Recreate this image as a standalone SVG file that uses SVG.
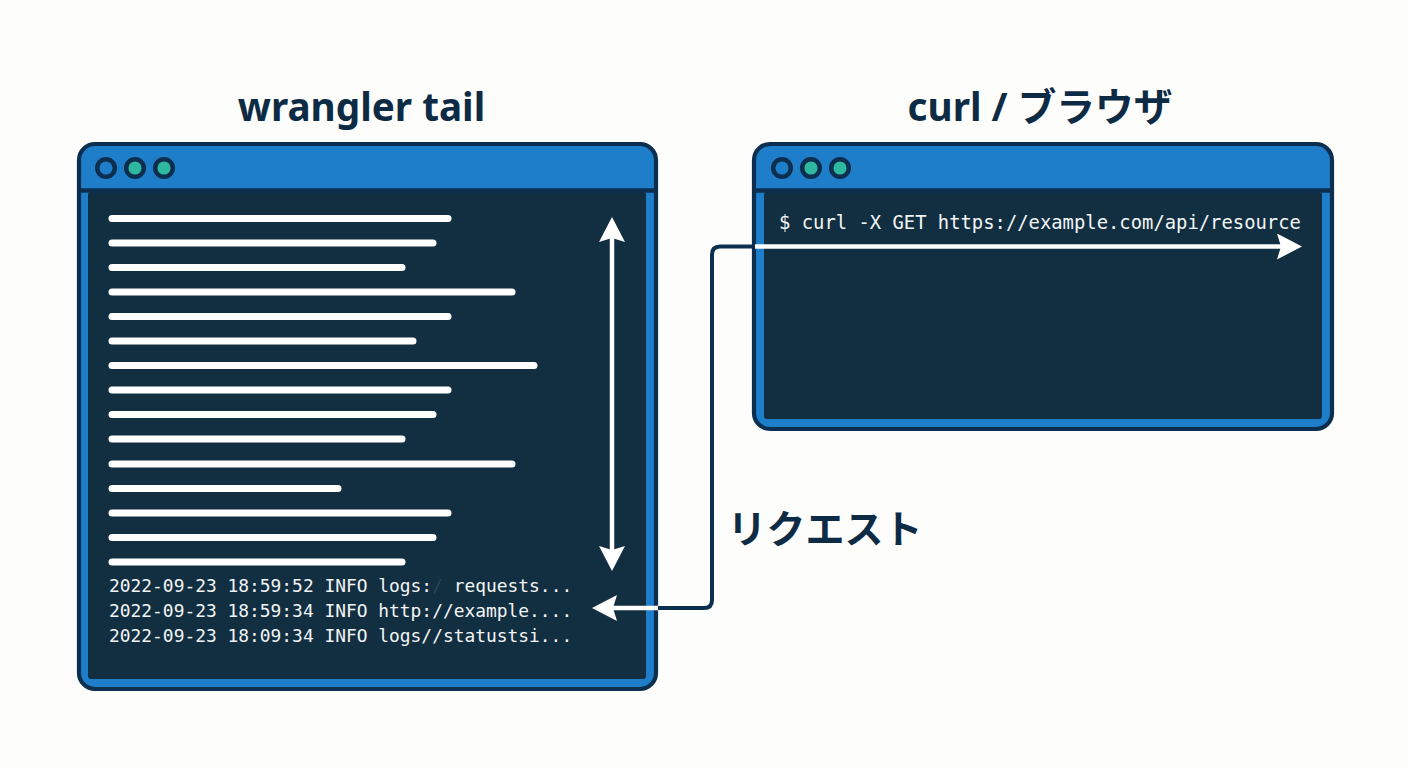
<svg xmlns="http://www.w3.org/2000/svg" width="1408" height="768" viewBox="0 0 1408 768">
<style>
.title{font-family:"Noto Sans","Noto Sans CJK JP",sans-serif;font-weight:700;font-size:38.700px;fill:#0d2b45;text-anchor:middle}
.frame{fill:#1f7ec9;stroke:#0d2f4f;stroke-width:4.2}
.screen{fill:#122e41}
.sep{stroke:#0d2f4f;stroke-width:4.5;fill:none}
.dot{stroke:#0d2f4f;stroke-width:4.5}
.blue{fill:#1f7ec9}
.teal{fill:#2fb8a0}
.bar{stroke:#fff;stroke-width:7;stroke-linecap:round}
.mono{font-family:"DejaVu Sans Mono",monospace;fill:#f2f5f5;white-space:pre}
.wire{fill:none;stroke:#0d2f4f;stroke-width:4}
.arrow{fill:none;stroke:#fff;stroke-width:4.5}
</style>
<defs>
<marker id="head" markerUnits="userSpaceOnUse" markerWidth="26" markerHeight="26" refX="4" refY="13" orient="auto-start-reverse">
<path d="M0 0L25 13L0 26L4 13Z" fill="#fff"/>
</marker>
</defs>
<rect width="1408" height="768" fill="#fdfdfb"/>
<text class="title" x="361.500" y="121">wrangler tail</text>
<text class="title" x="1040" y="121">curl / ブラウザ</text>
<g id="window-wrangler">
<rect class="frame" x="79" y="144" width="577" height="545" rx="16"/>
<rect class="screen" x="88" y="192" width="558" height="487" rx="3"/>
<path class="sep" d="M79 190.500H656"/>
<circle class="dot blue" cx="106" cy="168" r="8.800"/>
<circle class="dot teal" cx="135" cy="168" r="8.800"/>
<circle class="dot teal" cx="164" cy="168" r="8.800"/>
<g class="bars">
<line class="bar" x1="112" x2="448" y1="218.500" y2="218.500"/>
<line class="bar" x1="112" x2="433" y1="243" y2="243"/>
<line class="bar" x1="112" x2="402" y1="267.500" y2="267.500"/>
<line class="bar" x1="112" x2="512" y1="292" y2="292"/>
<line class="bar" x1="112" x2="448" y1="316.500" y2="316.500"/>
<line class="bar" x1="112" x2="413" y1="341" y2="341"/>
<line class="bar" x1="112" x2="534" y1="365.500" y2="365.500"/>
<line class="bar" x1="112" x2="448" y1="390" y2="390"/>
<line class="bar" x1="112" x2="433" y1="414.500" y2="414.500"/>
<line class="bar" x1="112" x2="402" y1="439" y2="439"/>
<line class="bar" x1="112" x2="512" y1="464" y2="464"/>
<line class="bar" x1="112" x2="338" y1="488.500" y2="488.500"/>
<line class="bar" x1="112" x2="448" y1="513" y2="513"/>
<line class="bar" x1="112" x2="433" y1="537.500" y2="537.500"/>
<line class="bar" x1="112" x2="402" y1="562" y2="562"/>
</g>
<text class="mono" font-size="17.900" x="109" y="592">2022-09-23 18:59:52 INFO logs:<tspan fill-opacity="0.12">/</tspan> requests...</text>
<text class="mono" font-size="17.900" x="109" y="617">2022-09-23 18:59:34 INFO http://example....</text>
<text class="mono" font-size="17.900" x="109" y="642">2022-09-23 18:09:34 INFO logs//statustsi...</text>
</g>
<g id="window-curl">
<rect class="frame" x="754" y="144" width="578" height="285" rx="16"/>
<rect class="screen" x="764" y="192" width="558" height="227" rx="3"/>
<path class="sep" d="M754 190.500H1332"/>
<circle class="dot blue" cx="782" cy="168" r="8.800"/>
<circle class="dot teal" cx="811" cy="168" r="8.800"/>
<circle class="dot teal" cx="840" cy="168" r="8.800"/>
<text class="mono" font-size="18.850" x="779" y="229">$ curl -X GET https://example.com/api/resource</text>
</g>
<g id="connectors">
<line class="arrow" x1="612" y1="238" x2="612" y2="550" marker-start="url(#head)" marker-end="url(#head)"/>
<path class="wire" d="M755 246.500H720Q712 246.500 712 254.500V600Q712 608 704 608H658"/>
<line class="arrow" x1="755" y1="246.500" x2="1281" y2="246.500" marker-end="url(#head)"/>
<line class="arrow" x1="658" y1="608" x2="613" y2="608" marker-end="url(#head)"/>
</g>
<text id="label-request" x="825" y="543" font-family="'Noto Sans CJK JP',sans-serif" font-weight="700" font-size="39" fill="#0d2b45" text-anchor="middle">リクエスト</text>
</svg>
